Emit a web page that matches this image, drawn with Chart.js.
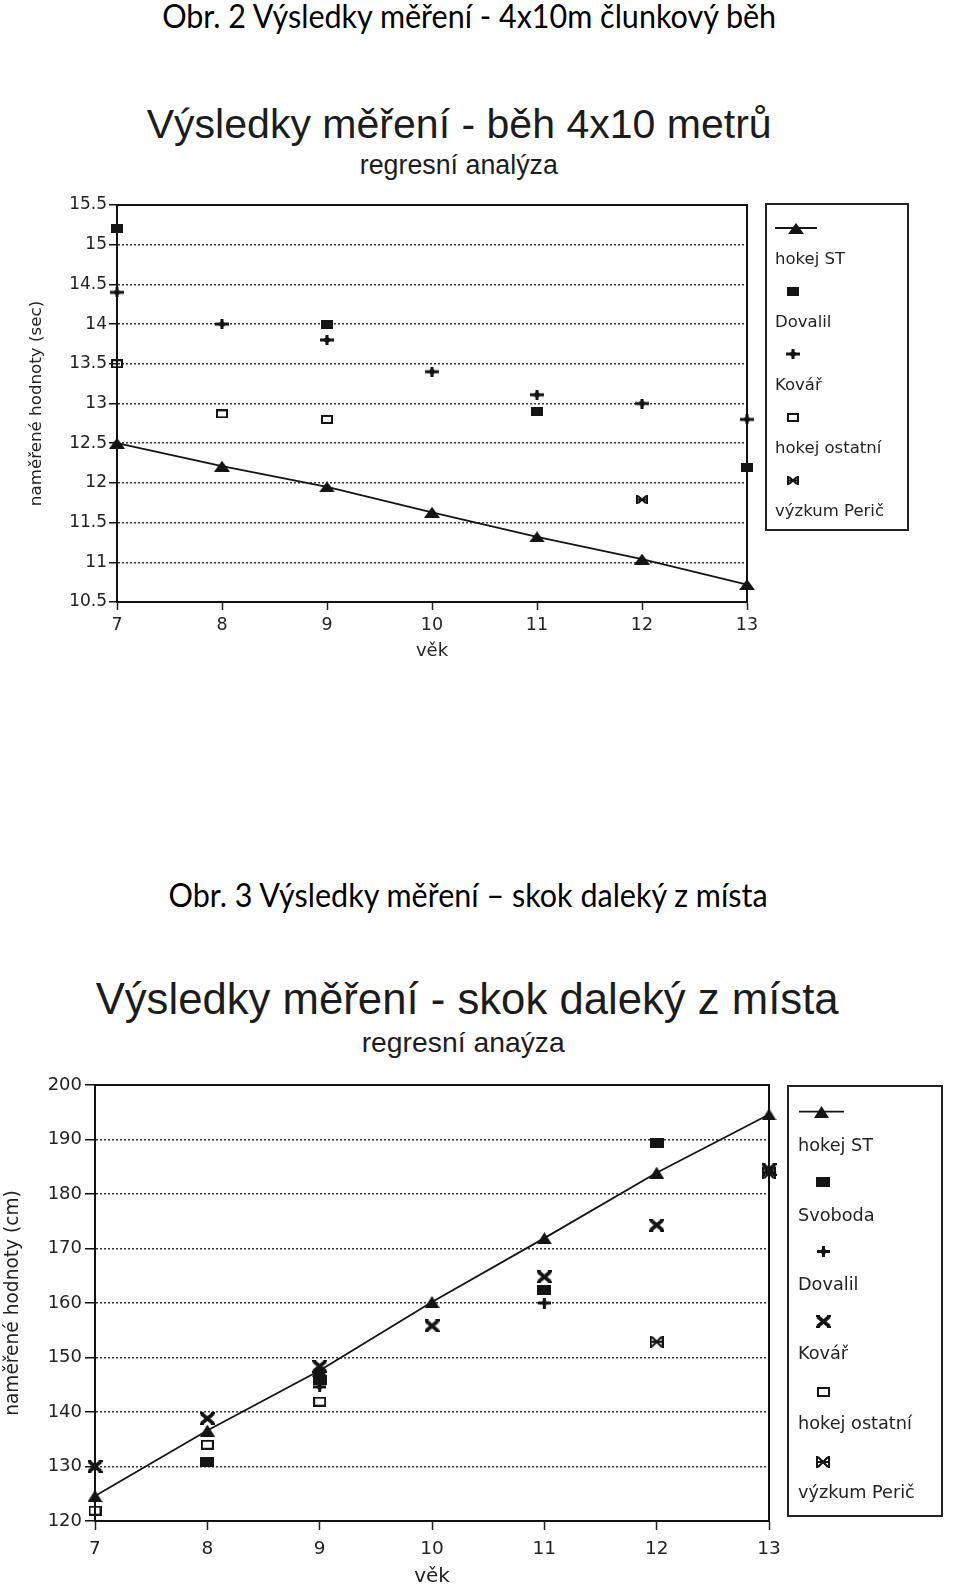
<!DOCTYPE html>
<html><head><meta charset="utf-8">
<script src="https://cdn.jsdelivr.net/npm/chart.js@4.4.1/dist/chart.umd.min.js"></script>
<style>
html,body{margin:0;padding:0;background:#fff;}
body{position:relative;width:960px;height:1590px;overflow:hidden;}
.txt{position:absolute;white-space:nowrap;text-align:center;width:900px;}
.txt span{display:inline-block;transform-origin:50% 50%;}
.hd{font-family:Lato,"Open Sans",sans-serif;color:#000;}
.tt{font-family:"Liberation Sans",Arial,sans-serif;color:#1c1c1c;}
.box{position:absolute;left:0;width:960px;}
canvas{display:block;}
</style></head>
<body>
<div class="txt hd" style="left:19px;top:-0.4px;font-size:32.5px;line-height:32.5px"><span data-w="614">Obr. 2 Výsledky měření - 4x10m člunkový běh</span></div>
<div class="txt tt" style="left:9.5px;top:104.3px;font-size:41px;line-height:41px"><span data-w="625">Výsledky měření - běh 4x10 metrů</span></div>
<div class="txt tt" style="left:9px;top:151.6px;font-size:27px;line-height:27px"><span data-w="198">regresní analýza</span></div>
<div class="box" style="top:190px;height:480px"><canvas id="c1" width="960" height="480"></canvas></div>

<div class="txt hd" style="left:18.5px;top:878.6px;font-size:32px;line-height:32px"><span data-w="599">Obr. 3 Výsledky měření – skok daleký z místa</span></div>
<div class="txt tt" style="left:17.5px;top:976.8px;font-size:44px;line-height:44px"><span data-w="743">Výsledky měření - skok daleký z místa</span></div>
<div class="txt tt" style="left:13.5px;top:1027.9px;font-size:28.5px;line-height:28.5px"><span data-w="203">regresní anaýza</span></div>
<div class="box" style="top:1070px;height:520px"><canvas id="c2" width="960" height="520"></canvas></div>

<script>
// ---------- data ----------
const ages = [7, 8, 9, 10, 11, 12, 13];

// Obr. 2 – běh 4x10 m (sec)
const run_yTicks   = [10.5, 11, 11.5, 12, 12.5, 13, 13.5, 14, 14.5, 15, 15.5];
const run_hokejST  = [12.5, 12.21, 11.95, 11.63, 11.32, 11.04, 10.72];
const run_dovalil  = [15.2, null, 14.0, null, 12.9, null, 12.2];
const run_kovar    = [14.4, 14.0, 13.8, 13.4, 13.11, 13.0, 12.8];
const run_ostatni  = [13.5, 12.87, 12.8, null, null, null, null];
const run_peric    = [null, null, null, null, null, 11.79, null];

// Obr. 3 – skok daleký z místa (cm)
const jump_yTicks  = [120, 130, 140, 150, 160, 170, 180, 190, 200];
const jump_hokejST = [124.6, 136.6, 147.6, 160.2, 171.9, 183.9, 194.6];
const jump_svoboda = [null, 130.9, 145.9, null, 162.4, 189.3, null];
const jump_dovalil = [null, null, 144.6, null, 160.0, null, null];
const jump_kovar   = [130.0, 138.8, 148.4, 155.8, 164.8, 174.3, 184.5];
const jump_ostatni = [121.9, 134.0, 141.9, null, null, null, null];
const jump_peric   = [null, null, null, null, null, 152.9, 183.8];

// ---------- marker glyphs ----------
const INK = '#141414';
function mk(w, h, fn){ const c = document.createElement('canvas'); c.width = w; c.height = h; const g = c.getContext('2d'); g.fillStyle = INK; g.strokeStyle = INK; fn(g, w, h); return c; }
const tri = (w,h) => mk(w,h,g=>{ g.beginPath(); g.moveTo(w/2,0); g.lineTo(w,h); g.lineTo(0,h); g.closePath(); g.fill(); });
const fsq = (w,h) => mk(w,h,g=>{ g.fillRect(0,0,w,h); });
const osq = (w,h,lw) => mk(w,h,g=>{ g.lineWidth = lw; g.strokeRect(lw/2,lw/2,w-lw,h-lw); });
const plus = (w,h,t) => mk(w,h,g=>{ g.fillRect(0,(h-t)/2,w,t); g.fillRect((w-t)/2,0,t,h); g.beginPath(); g.moveTo(w/2,h/2-3.5); g.lineTo(w/2+4.5,h/2); g.lineTo(w/2,h/2+3.5); g.lineTo(w/2-4.5,h/2); g.closePath(); g.fill(); });
const xm = (w,h,lw) => mk(w,h,g=>{ g.lineWidth = lw; g.lineCap='butt'; g.beginPath(); g.moveTo(1.5,1.5); g.lineTo(w-1.5,h-1.5); g.moveTo(w-1.5,1.5); g.lineTo(1.5,h-1.5); g.stroke(); g.fillRect(0,0,4,2); g.fillRect(w-4,0,4,2); g.fillRect(0,h-2,4,2); g.fillRect(w-4,h-2,4,2); });
const peric = (w,h,lw) => mk(w,h,g=>{ g.lineWidth = lw; g.beginPath(); g.moveTo(2,1); g.lineTo(w-2,h-1); g.moveTo(w-2,1); g.lineTo(2,h-1); g.moveTo(2,h/2); g.lineTo(w-2,h/2); g.stroke(); g.fillRect(0,0,2,h); g.fillRect(w-2,0,2,h); });

function pts(arr){ return ages.map((a,i)=>({x:a, y:arr[i]})).filter(p=>p.y !== null); }
function ds(label, arr, style, line){
  return { label, data: pts(arr), showLine: !!line, borderColor: INK, borderWidth: 1.8,
           pointStyle: style, pointRadius: 6, pointHoverRadius: 6, clip: false, tension: 0 };
}

// ---------- plugins ----------
const frame = {
  id: 'frame',
  beforeDatasetsDraw(chart){
    const a = chart.chartArea, ctx = chart.ctx;
    ctx.save(); ctx.strokeStyle = '#111'; ctx.lineWidth = 2;
    ctx.strokeRect(a.left, a.top, a.right - a.left, a.bottom - a.top);
    ctx.restore();
  }
};
const sideLegend = {
  id: 'sideLegend',
  afterDraw(chart, args, o){
    const ctx = chart.ctx;
    ctx.save();
    ctx.strokeStyle = '#222'; ctx.lineWidth = 2;
    ctx.strokeRect(o.left, o.top, o.right - o.left, o.bottom - o.top);
    ctx.font = o.fontSize + 'px "DejaVu Sans", sans-serif';
    ctx.fillStyle = '#222'; ctx.textBaseline = 'middle'; ctx.textAlign = 'left';
    chart.data.datasets.forEach((d, i) => {
      const sy = o.sym0 + o.symStep * i, ty = o.text0 + o.textStep * i;
      let cx = o.symX;
      if (d.showLine){
        ctx.strokeStyle = INK; ctx.lineWidth = 1.8;
        ctx.beginPath(); ctx.moveTo(o.lineX1, sy); ctx.lineTo(o.lineX2, sy); ctx.stroke();
        cx = (o.lineX1 + o.lineX2) / 2;
      }
      const img = d.pointStyle;
      ctx.drawImage(img, Math.round(cx - img.width/2), Math.round(sy - img.height/2));
      ctx.fillText(d.label, o.textX, ty);
    });
    ctx.restore();
  }
};

function makeChart(id, cfg){
  return new Chart(document.getElementById(id), {
    type: 'scatter',
    data: { datasets: cfg.datasets },
    options: {
      responsive: false, animation: false, events: [],
      layout: { padding: cfg.padding },
      plugins: { legend: { display: false }, tooltip: { enabled: false }, sideLegend: cfg.legend },
      scales: {
        x: {
          type: 'linear', min: 7, max: 13,
          afterBuildTicks: s => { s.ticks = ages.map(v => ({ value: v })); },
          afterFit: s => { s.height = cfg.xH; },
          grid: { drawOnChartArea: false, drawTicks: true, tickLength: cfg.xTickLen, tickColor: '#222', tickWidth: 1.5 },
          border: { display: true, color: '#111', width: 2 },
          ticks: { padding: cfg.xPad, color: '#222', font: { family: 'DejaVu Sans', size: cfg.xFont }, maxRotation: 0 },
          title: { display: true, text: 'věk', color: '#222', font: { family: 'DejaVu Sans', size: cfg.xTitleFont }, padding: { top: 0, bottom: cfg.xTitlePad } }
        },
        y: {
          type: 'linear', min: cfg.yTicks[0], max: cfg.yTicks[cfg.yTicks.length - 1],
          afterBuildTicks: s => { s.ticks = cfg.yTicks.map(v => ({ value: v })); },
          afterFit: s => { s.width = cfg.yW; },
          grid: { display: true, drawOnChartArea: true, drawTicks: true, color: '#333', lineWidth: 1.5,
                  tickLength: cfg.yTickLen, tickColor: '#111', tickWidth: 1.5, tickBorderDash: [] },
          border: { display: true, color: '#111', width: 2, dash: [2, 2] },
          ticks: { padding: cfg.yPad, color: '#222', font: { family: 'DejaVu Sans', size: cfg.yFont },
                   callback: v => String(v) },
          title: { display: true, text: cfg.yTitle, color: '#222', font: { family: 'DejaVu Sans', size: cfg.yTitleFont }, padding: { top: cfg.yTitlePad, bottom: 0 } }
        }
      }
    },
    plugins: [frame, sideLegend]
  });
}

const M1 = { tri: tri(16,11), fsq: fsq(12,9), plus: plus(14,10,3), osq: osq(12,9,2), peric: peric(12,9,2.2) };
makeChart('c1', {
  datasets: [
    ds('hokej ST', run_hokejST, M1.tri, true),
    ds('Dovalil', run_dovalil, M1.fsq),
    ds('Kovář', run_kovar, M1.plus),
    ds('hokej ostatní', run_ostatni, M1.osq),
    ds('výzkum Perič', run_peric, M1.peric)
  ],
  padding: { top: 15, right: 213, left: 0, bottom: 0 },
  yTicks: run_yTicks, yW: 117, xH: 68,
  xTickLen: 8, xPad: 5, xFont: 17.5, xTitleFont: 18, xTitlePad: 7.5,
  yTickLen: 8, yPad: 2, yFont: 17, yTitle: 'naměřené hodnoty (sec)', yTitleFont: 16.7, yTitlePad: 27,
  legend: { left: 766, top: 14, right: 908, bottom: 340, fontSize: 16.5,
            sym0: 38, symStep: 63.1, text0: 70, textStep: 62.9, symX: 793, lineX1: 775, lineX2: 817, textX: 775 }
});

const M2 = { tri: tri(15,12), fsq: fsq(14,10), plus: plus(13,11,3), xm: xm(15,13,3.6), osq: osq(13,10,2), peric: peric(14,12,2.2) };
makeChart('c2', {
  datasets: [
    ds('hokej ST', jump_hokejST, M2.tri, true),
    ds('Svoboda', jump_svoboda, M2.fsq),
    ds('Dovalil', jump_dovalil, M2.plus),
    ds('Kovář', jump_kovar, M2.xm),
    ds('hokej ostatní', jump_ostatni, M2.osq),
    ds('výzkum Perič', jump_peric, M2.peric)
  ],
  padding: { top: 15, right: 191, left: 0, bottom: 0 },
  yTicks: jump_yTicks, yW: 95, xH: 69,
  xTickLen: 9, xPad: 8.5, xFont: 18.5, xTitleFont: 20, xTitlePad: 1.3,
  yTickLen: 10, yPad: 3, yFont: 18, yTitle: 'naměřené hodnoty (cm)', yTitleFont: 18.6, yTitlePad: 1.8,
  legend: { left: 788, top: 16, right: 942, bottom: 446, fontSize: 17.7,
            sym0: 41.7, symStep: 70, text0: 76.7, textStep: 69.3, symX: 823, lineX1: 799, lineX2: 844, textX: 798 }
});

// ---------- fit headline widths ----------
function fitText(){
  document.querySelectorAll('[data-w]').forEach(s => {
    s.style.transform = 'none';
    const w = s.getBoundingClientRect().width;
    if (w > 0) s.style.transform = 'scaleX(' + (+s.dataset.w / w) + ')';
  });
}
fitText();
if (document.fonts) document.fonts.ready.then(fitText);
</script>
</body></html>
